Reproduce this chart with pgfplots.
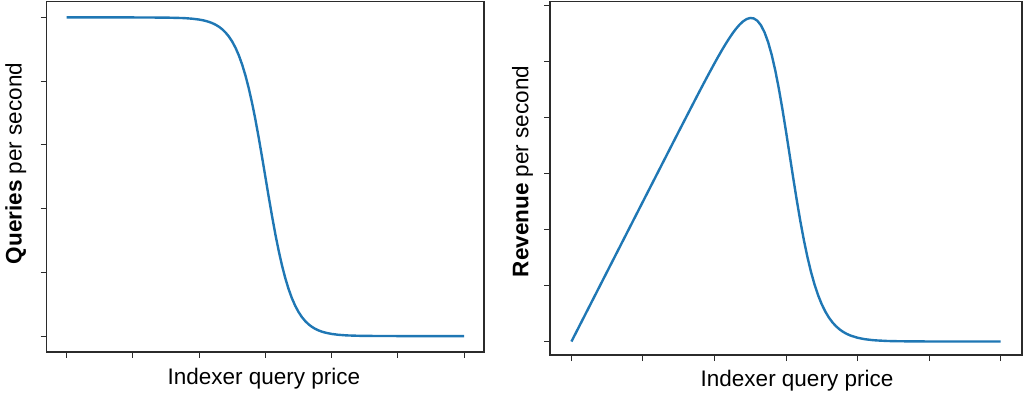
\documentclass[border=0pt]{standalone}
\usepackage{fontspec}
\setmainfont{Liberation Sans}
\usepackage{pgfplots}
\usepackage{pgfplotstable}
\pgfplotsset{compat=1.18}
\definecolor{mplblue}{HTML}{1F77B4}
\definecolor{axgray}{HTML}{2B2B2B}
\pgfplotstableread{
x Q R
0.00 5.00000 0.00000
0.50 5.00000 1.25000
1.00 4.99975 2.49989
1.50 4.99725 3.74794
1.75 4.99035 4.36656
1.80 4.98765 4.48889
1.90 4.97965 4.73067
2.00 4.96655 4.96655
2.05 4.95710 5.08103
2.10 4.94505 5.19230
2.15 4.92970 5.29943
2.20 4.91005 5.40106
2.25 4.88510 5.49574
2.30 4.85345 5.58147
2.35 4.81335 5.65569
2.40 4.76285 5.71542
2.45 4.69955 5.75695
2.50 4.62070 5.77588
2.55 4.52325 5.76714
2.60 4.40400 5.72520
2.65 4.25975 5.64417
2.70 4.08785 5.51860
2.75 3.88650 5.34394
2.80 3.65530 5.11742
2.85 3.39590 4.83916
2.90 3.11230 4.51284
2.95 2.81090 4.14608
3.00 2.50000 3.75000
3.05 2.18910 3.33838
3.10 1.88770 2.92594
3.15 1.60410 2.52646
3.20 1.34470 2.15152
3.25 1.11350 1.80944
3.30 0.91215 1.50505
3.35 0.74025 1.23992
3.40 0.59600 1.01320
3.45 0.47675 0.82239
3.50 0.37930 0.66378
3.55 0.30045 0.53330
3.60 0.23715 0.42687
3.65 0.18665 0.34064
3.70 0.14655 0.27112
3.75 0.11490 0.21544
3.80 0.08995 0.17091
3.85 0.07030 0.13533
3.90 0.05495 0.10715
4.00 0.03345 0.06690
4.10 0.02035 0.04172
4.20 0.01235 0.02594
4.25 0.00965 0.02051
4.40 0.00455 0.01001
4.50 0.00275 0.00619
4.75 0.00079 0.00188
5.00 0.00023 0.00057
5.50 0.00002 0.00004
6.00 0.00000 0.00000
}\datatable
\newcommand{\labfont}{\fontsize{22.5}{27}\selectfont}
\pgfplotsset{
  myax/.style={
    scale only axis,
    axis line style={draw=axgray, line width=1.25pt},
    xtick={0,1,2,3,4,5,6},
    xticklabel=\empty, yticklabel=\empty,
    xtick pos=left, ytick pos=left,
    tick align=outside,
    major tick length=6pt,
    every tick/.style={draw=axgray, line width=1pt},
    xmin=-0.3, xmax=6.3,
  }
}
\begin{document}
\begin{tikzpicture}
\path[use as bounding box] (0,0) rectangle (1024pt,393pt);
\begin{axis}[myax,
  anchor=south west, at={(46.7pt,41pt)},
  width=437.3pt, height=350.5pt,
  ymin=-0.25, ymax=5.25,
  ytick={0,1,2,3,4,5},
  xlabel={Indexer query price},
  ylabel={\textbf{Queries} per second},
  every axis x label/.style={at={(axis description cs:0.4965,-0.094)}, anchor=base, font=\labfont},
  every axis y label/.style={at={(axis description cs:-0.0572,0.538)}, anchor=base, rotate=90, font=\labfont},
]
\addplot[mplblue, line width=2.4pt] table[x=x, y=Q] {\datatable};
\end{axis}
\begin{axis}[myax,
  anchor=south west, at={(550pt,38pt)},
  width=472pt, height=353.5pt,
  ymin=-0.241, ymax=6.07,
  ytick={0,1,2,3,4,5,6},
  xlabel={Indexer query price},
  ylabel={\textbf{Revenue} per second},
  every axis x label/.style={at={(axis description cs:0.5233,-0.0897)}, anchor=base, font=\labfont},
  every axis y label/.style={at={(axis description cs:-0.046,0.519)}, anchor=base, rotate=90, font=\labfont},
]
\addplot[mplblue, line width=2.4pt] table[x=x, y=R] {\datatable};
\end{axis}
\end{tikzpicture}
\end{document}
